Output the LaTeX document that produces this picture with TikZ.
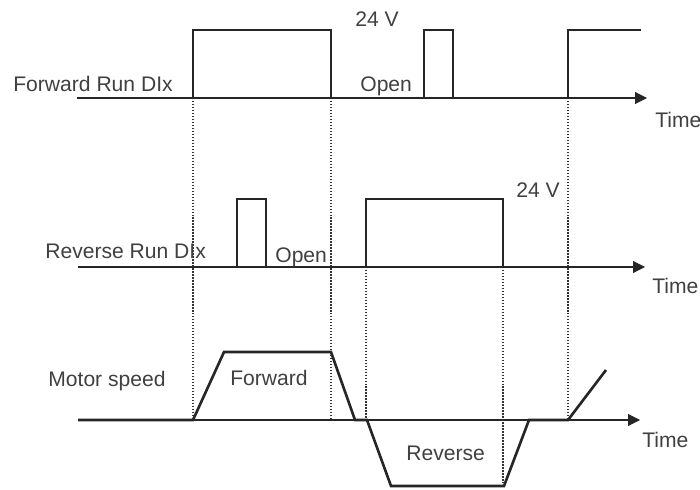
\documentclass[tikz,border=0pt]{standalone}
\usepackage{fontspec}
\setmainfont{Liberation Sans}
\usetikzlibrary{arrows.meta}

\begin{document}
\begin{tikzpicture}[
    axis/.style={line width=0.6pt,black!85,-{Triangle[length=2.4mm,width=2.4mm]}},
    signal/.style={line width=1.5pt,black!85,line join=miter},
    guide/.style={line width=0.6pt,black!80,dash pattern=on 0.8pt off 0.9pt},
    lbl/.style={anchor=base west,inner sep=0pt,text=black!75,font=\fontsize{12}{14}\selectfont}]
  \useasboundingbox (0,0) rectangle (14,9.78);
  % time axes
  \draw[axis] (1.54,7.82) -- (12.94,7.82);
  \draw[axis] (1.56,4.44) -- (12.90,4.44);
  \draw[axis] (1.56,1.38) -- (12.80,1.38);
  % guide lines
  \draw[guide] (3.86,7.82) -- (3.86,1.38);
  \draw[guide] (6.62,7.82) -- (6.62,1.38);
  \draw[guide] (7.32,4.44) -- (7.32,1.38);
  \draw[guide] (10.06,4.44) -- (10.06,0.06);
  \draw[guide] (11.36,7.82) -- (11.36,1.38);
  % forward run input
  \draw[signal] (1.54,7.82) -- (3.86,7.82) -- (3.86,9.18) -- (6.62,9.18) -- (6.62,7.82) -- (8.48,7.82) -- (8.48,9.18) -- (9.06,9.18) -- (9.06,7.82) -- (11.36,7.82) -- (11.36,9.18) -- (12.82,9.18);
  % reverse run input
  \draw[signal] (1.56,4.44) -- (4.74,4.44) -- (4.74,5.80) -- (5.32,5.80) -- (5.32,4.44) -- (7.32,4.44) -- (7.32,5.80) -- (10.06,5.80) -- (10.06,4.44) -- (12.60,4.44);
  % motor speed
  \draw[signal] (1.56,1.38) -- (3.86,1.38) -- (4.48,2.74) -- (6.62,2.74) -- (7.10,1.38) -- (7.34,1.38) -- (7.82,0.06) -- (10.08,0.06) -- (10.58,1.38) -- (11.36,1.38) -- (12.12,2.38);
  % labels
  \node[lbl] (fwdname) at (0.26,7.94) {Forward Run DIx};
  \node[lbl] (fwdhigh) at (7.10,9.24) {24 V};
  \node[lbl] (fwdopen) at (7.20,7.94) {Open};
  \node[lbl] (fwdtime) at (13.10,7.22) {Time};
  \node[lbl] (revname) at (0.90,4.62) {Reverse Run DIx};
  \node[lbl] (revopen) at (5.50,4.54) {Open};
  \node[lbl] (revhigh) at (10.32,5.82) {24 V};
  \node[lbl] (revtime) at (13.04,3.92) {Time};
  \node[lbl] (spdname) at (0.96,2.06) {Motor speed};
  \node[lbl] (spdfwd) at (4.60,2.08) {Forward};
  \node[lbl] (spdrev) at (8.12,0.58) {Reverse};
  \node[lbl] (spdtime) at (12.84,0.84) {Time};
\end{tikzpicture}
\end{document}
